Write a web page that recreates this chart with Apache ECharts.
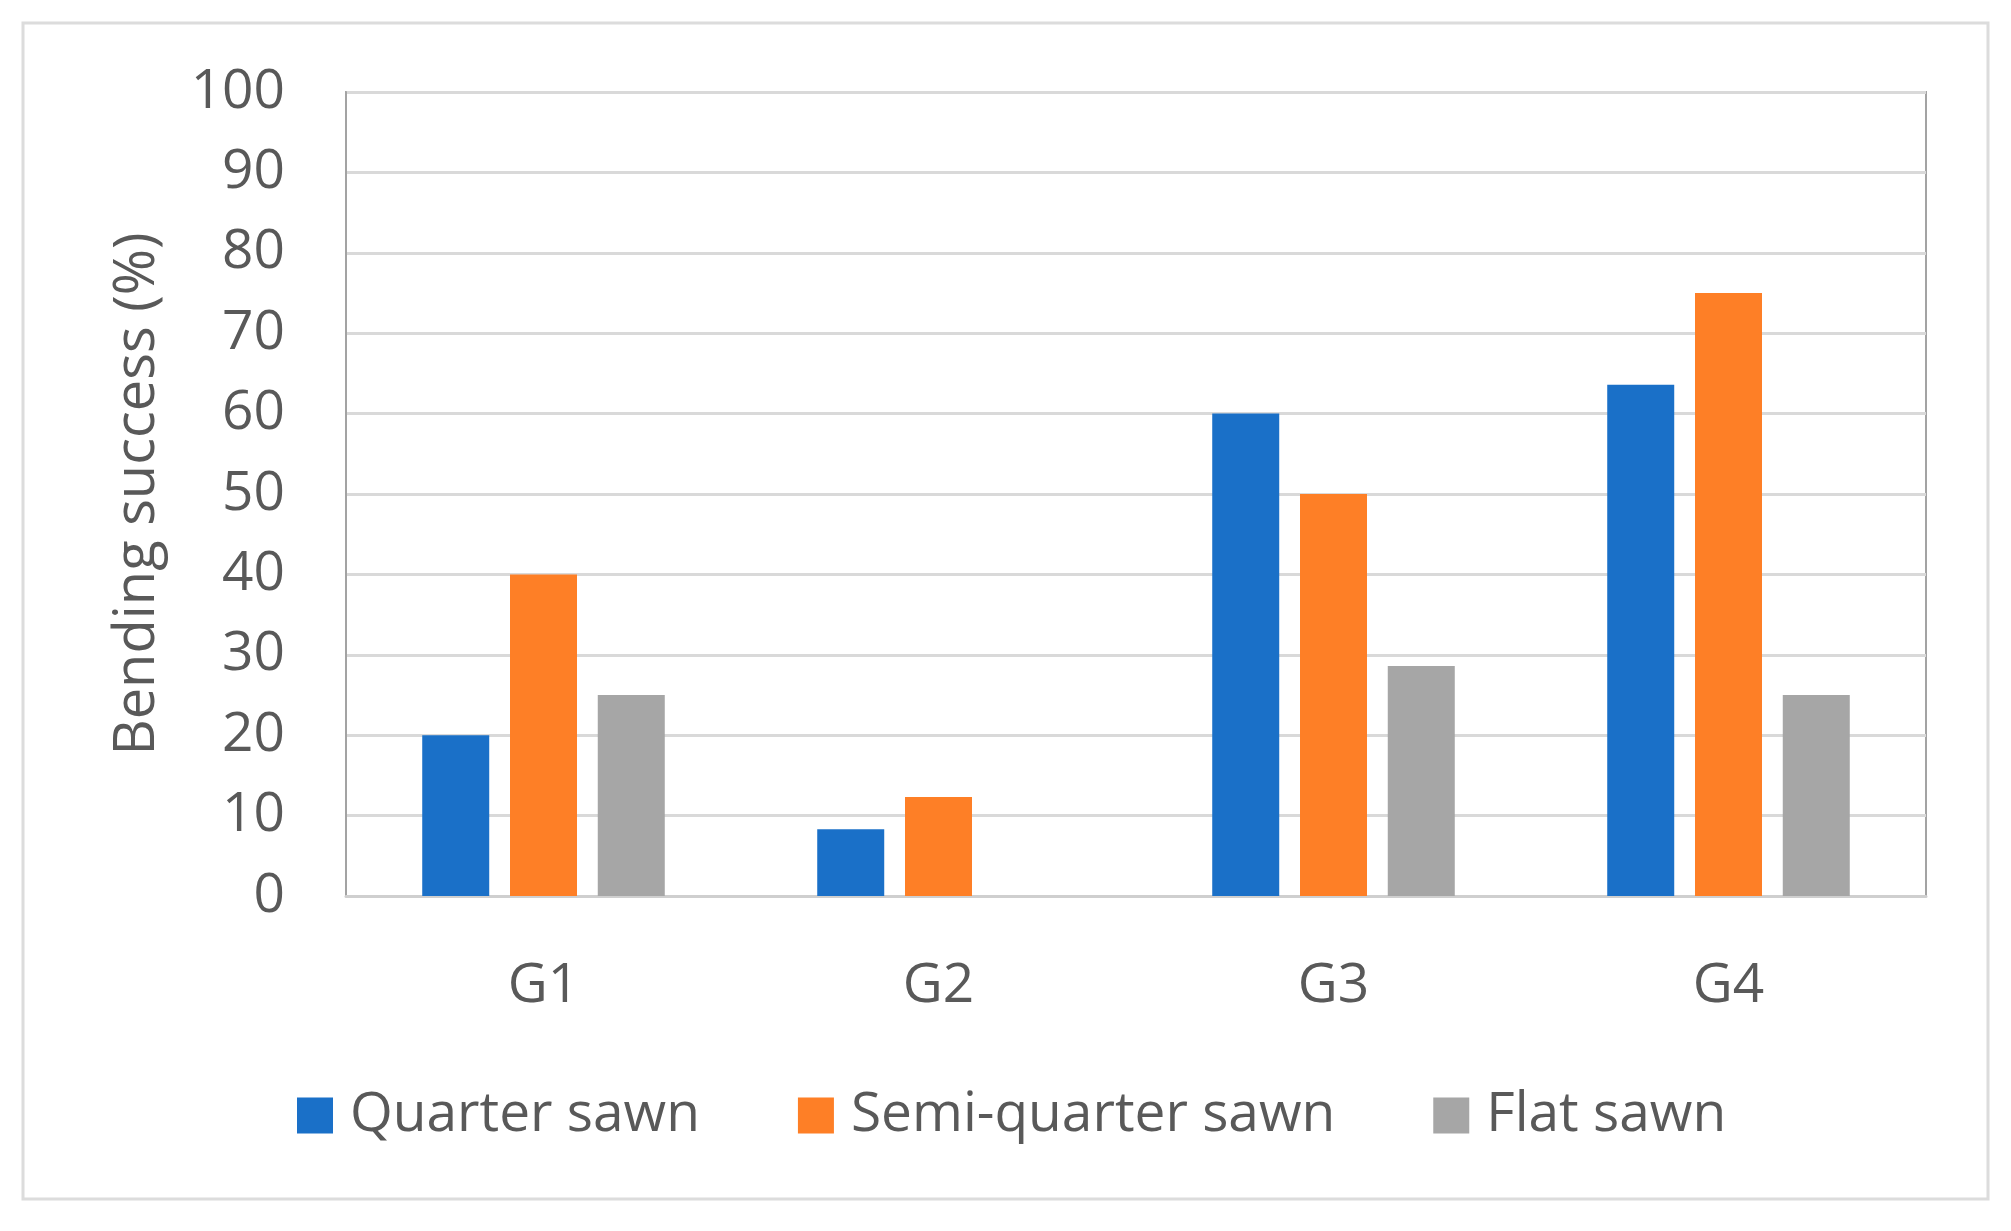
<!DOCTYPE html>
<html>
<head>
<meta charset="utf-8">
<script src="https://cdn.jsdelivr.net/npm/echarts@6/dist/echarts.min.js"></script>
<style>
html,body{margin:0;padding:0;background:#fff;}
#chart{width:2011px;height:1231px;}
</style>
</head>
<body>
<div id="chart"></div>
<script>
const categories = ['G1', 'G2', 'G3', 'G4'];
const quarterSawn = [20, 8.3, 60, 63.6];
const semiQuarterSawn = [40, 12.3, 50, 75];
const flatSawn = [25, 0, 28.6, 25];
const seriesNames = ['Quarter sawn', 'Semi-quarter sawn', 'Flat sawn'];
const yTicks = { min: 0, max: 100, interval: 10 };
const yTitle = 'Bending success (%)';

const colors = ['#1a70c8', '#fe7f26', '#a6a6a6'];
const font = '"Open Sans", "Noto Sans", sans-serif';
const chart = echarts.init(document.getElementById('chart'));
chart.setOption({
  animation: false,
  backgroundColor: '#ffffff',
  color: colors,
  graphic: [{
    type: 'rect',
    shape: { x: 23, y: 23, width: 1965, height: 1176 },
    style: { fill: 'none', stroke: '#dcdcdc', lineWidth: 3 },
    z: -1
  }],
  grid: { left: 346, top: 92, width: 1580, height: 804, show: true, borderColor: '#a3a3a3', borderWidth: 2, backgroundColor: 'transparent' },
  legend: {
    left: 292, top: 1083,
    itemWidth: 36, itemHeight: 36, itemGap: 98,
    icon: 'rect',
    data: seriesNames,
    textStyle: { fontFamily: font, fontSize: 55, color: '#595959', padding: [0, 0, 0, 12] }
  },
  xAxis: {
    type: 'category',
    data: categories,
    axisLine: { show: true, lineStyle: { color: '#cfcfcf', width: 3 } },
    axisTick: { show: false },
    axisLabel: { fontFamily: font, fontSize: 55, color: '#595959', margin: 63 },
    splitLine: { show: false }
  },
  yAxis: {
    type: 'value',
    min: yTicks.min, max: yTicks.max, interval: yTicks.interval,
    name: yTitle,
    nameLocation: 'middle',
    nameGap: 180,
    nameTextStyle: { fontFamily: font, fontSize: 56, color: '#595959' },
    axisLine: { show: true, lineStyle: { color: '#a3a3a3', width: 2 } },
    axisTick: { show: false },
    axisLabel: { fontFamily: font, fontSize: 55, color: '#595959', margin: 61 },
    splitLine: { lineStyle: { color: '#d9d9d9', width: 3 } }
  },
  series: [
    { name: seriesNames[0], type: 'bar', data: quarterSawn, barWidth: 67, barGap: '31%' },
    { name: seriesNames[1], type: 'bar', data: semiQuarterSawn, barWidth: 67, barGap: '31%' },
    { name: seriesNames[2], type: 'bar', data: flatSawn, barWidth: 67, barGap: '31%' }
  ]
});
</script>
</body>
</html>
